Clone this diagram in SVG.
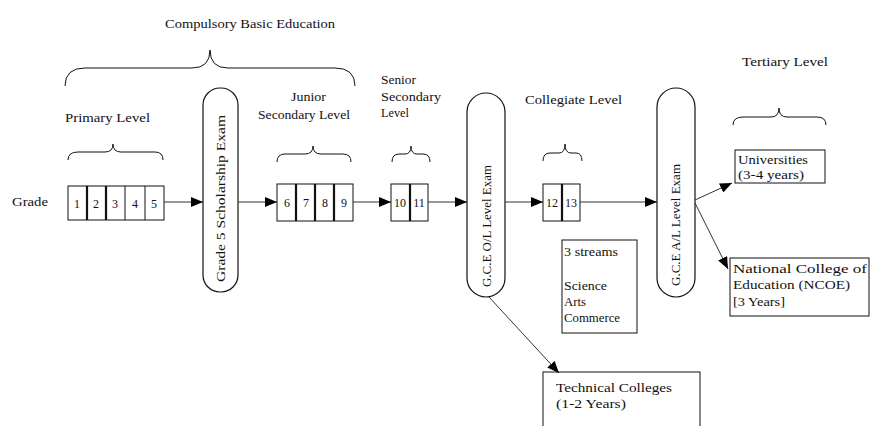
<svg xmlns="http://www.w3.org/2000/svg" width="873" height="426" viewBox="0 0 873 426">
<style>
text{font-family:"Liberation Serif","Times New Roman",serif;font-size:12px;fill:#111}
.box{fill:#fff;stroke:#111;stroke-width:1}
.div{stroke:#111;stroke-width:1}
.thk{stroke:#111;stroke-width:2.2}
.pill{fill:#fff;stroke:#111;stroke-width:1.2}
.brace{fill:none;stroke:#111;stroke-width:1}
.conn{stroke:#333;stroke-width:1;fill:none}
</style>
<defs>
<marker id="ah" viewBox="0 0 12 10" refX="12" refY="5" markerWidth="12" markerHeight="10" markerUnits="userSpaceOnUse" orient="auto">
<path d="M0,0 L12,5 L0,10 z" fill="#000"/>
</marker>
</defs>
<rect width="873" height="426" fill="#fff"/>

<g id="labels">
<text x="165" y="28" textLength="170" lengthAdjust="spacingAndGlyphs">Compulsory Basic Education</text>
<text x="65" y="122" textLength="85" lengthAdjust="spacingAndGlyphs">Primary Level</text>
<text x="291" y="101" textLength="35" lengthAdjust="spacingAndGlyphs">Junior</text>
<text x="258" y="119" textLength="92" lengthAdjust="spacingAndGlyphs">Secondary Level</text>
<text x="381" y="84" textLength="35" lengthAdjust="spacingAndGlyphs">Senior</text>
<text x="381" y="101" textLength="60" lengthAdjust="spacingAndGlyphs">Secondary</text>
<text x="381" y="117" textLength="28" lengthAdjust="spacingAndGlyphs">Level</text>
<text x="525" y="104" textLength="97" lengthAdjust="spacingAndGlyphs">Collegiate Level</text>
<text x="742" y="66" textLength="86" lengthAdjust="spacingAndGlyphs">Tertiary Level</text>
<text x="12" y="206" textLength="36" lengthAdjust="spacingAndGlyphs">Grade</text>
</g>

<g id="braces">
<path class="brace" d="M65,86 Q65,68 85,68 L192,68 Q210,68 210,50 Q210,68 228,68 L335,68 Q355,68 355,86"/>
<path class="brace" d="M68,160 Q68,152 78,152 L105,152 Q113,152 113,144 Q113,152 121,152 L155,152 Q163,152 163,160"/>
<path class="brace" d="M277,162 Q277,154 285,154 L305,154 Q313,154 313,146 Q313,154 321,154 L343,154 Q351,154 351,162"/>
<path class="brace" d="M392,162 Q392,154 399,154 L405,154 Q411,154 411,146 Q411,154 417,154 L423,154 Q430,154 430,162"/>
<path class="brace" d="M543,161 Q543,153 550,153 L559,153 Q565,153 565,144 Q565,153 571,153 L576,153 Q582,153 582,161"/>
<path class="brace" d="M733,125 Q733,117 743,117 L771,117 Q779,117 779,108 Q779,117 787,117 L817,117 Q826,117 826,125"/>
</g>

<g id="grades-primary">
<rect class="box" x="68" y="186" width="96" height="34"/>
<line class="thk" x1="87" y1="186" x2="87" y2="220"/>
<line class="thk" x1="106" y1="186" x2="106" y2="220"/>
<line class="div" x1="125" y1="186" x2="125" y2="220"/>
<line class="div" x1="145" y1="186" x2="145" y2="220"/>
<text x="77" y="208" text-anchor="middle">1</text>
<text x="96" y="208" text-anchor="middle">2</text>
<text x="115" y="208" text-anchor="middle">3</text>
<text x="135" y="208" text-anchor="middle">4</text>
<text x="154" y="208" text-anchor="middle">5</text>
</g>

<g id="exam-grade5">
<rect class="pill" x="203" y="88" width="35" height="204" rx="17" ry="17"/>
<text transform="translate(225,282) rotate(-90)" textLength="167" lengthAdjust="spacingAndGlyphs">Grade 5 Scholarship Exam</text>
</g>

<g id="grades-junior">
<rect class="box" x="277" y="184" width="76" height="37"/>
<line class="thk" x1="296" y1="184" x2="296" y2="221"/>
<line class="thk" x1="315" y1="184" x2="315" y2="221"/>
<line class="thk" x1="334" y1="184" x2="334" y2="221"/>
<text x="287" y="207" text-anchor="middle">6</text>
<text x="306" y="207" text-anchor="middle">7</text>
<text x="325" y="207" text-anchor="middle">8</text>
<text x="344" y="207" text-anchor="middle">9</text>
</g>

<g id="grades-senior">
<rect class="box" x="391" y="184" width="37" height="37"/>
<line class="thk" x1="410" y1="184" x2="410" y2="221"/>
<text x="400" y="207" text-anchor="middle">10</text>
<text x="419" y="207" text-anchor="middle">11</text>
</g>

<g id="exam-ol">
<rect class="pill" x="467" y="93" width="38" height="204" rx="19" ry="19"/>
<text transform="translate(491,287) rotate(-90)" font-size="13" textLength="122" lengthAdjust="spacingAndGlyphs">G.C.E O/L Level Exam</text>
</g>

<g id="grades-collegiate">
<rect class="box" x="543" y="184" width="37" height="37"/>
<line class="thk" x1="562" y1="184" x2="562" y2="221"/>
<text x="552" y="207" text-anchor="middle">12</text>
<text x="571" y="207" text-anchor="middle">13</text>
</g>

<g id="streams">
<rect class="box" x="562" y="240" width="75" height="93"/>
<text x="564" y="256" textLength="54" lengthAdjust="spacingAndGlyphs">3 streams</text>
<text x="564" y="290" textLength="43" lengthAdjust="spacingAndGlyphs">Science</text>
<text x="564" y="306" textLength="22" lengthAdjust="spacingAndGlyphs">Arts</text>
<text x="564" y="322" textLength="56" lengthAdjust="spacingAndGlyphs">Commerce</text>
</g>

<g id="exam-al">
<rect class="pill" x="657" y="88" width="38" height="209" rx="19" ry="19"/>
<text transform="translate(680,286) rotate(-90)" textLength="122" lengthAdjust="spacingAndGlyphs">G.C.E A/L Level Exam</text>
</g>

<g id="universities">
<rect class="box" x="735" y="150" width="90" height="33"/>
<text x="738" y="164" textLength="70" lengthAdjust="spacingAndGlyphs">Universities</text>
<text x="738" y="179" textLength="66" lengthAdjust="spacingAndGlyphs">(3-4 years)</text>
</g>

<g id="ncoe">
<rect class="box" x="730" y="258" width="139" height="58"/>
<text x="733" y="273" textLength="134" lengthAdjust="spacingAndGlyphs">National College of</text>
<text x="733" y="289" textLength="117" lengthAdjust="spacingAndGlyphs">Education (NCOE)</text>
<text x="733" y="306" font-size="14" textLength="52" lengthAdjust="spacingAndGlyphs">[3 Years]</text>
</g>

<g id="technical">
<rect class="box" x="543" y="372" width="157" height="60"/>
<text x="556" y="392" textLength="116" lengthAdjust="spacingAndGlyphs">Technical Colleges</text>
<text x="556" y="408" textLength="70" lengthAdjust="spacingAndGlyphs">(1-2 Years)</text>
</g>

<g id="connectors">
<line class="conn" x1="164" y1="202" x2="203" y2="202" marker-end="url(#ah)"/>
<line class="conn" x1="238" y1="202" x2="277" y2="202" marker-end="url(#ah)"/>
<line class="conn" x1="353" y1="202" x2="391" y2="202" marker-end="url(#ah)"/>
<line class="conn" x1="428" y1="202" x2="467" y2="202" marker-end="url(#ah)"/>
<line class="conn" x1="505" y1="202" x2="543" y2="202" marker-end="url(#ah)"/>
<line class="conn" x1="580" y1="202" x2="657" y2="202" marker-end="url(#ah)"/>
<line class="conn" x1="695" y1="200" x2="732" y2="183" marker-end="url(#ah)"/>
<line class="conn" x1="695" y1="203" x2="728" y2="269" marker-end="url(#ah)"/>
<line class="conn" x1="489" y1="297" x2="559" y2="373" marker-end="url(#ah)"/>
</g>
</svg>
